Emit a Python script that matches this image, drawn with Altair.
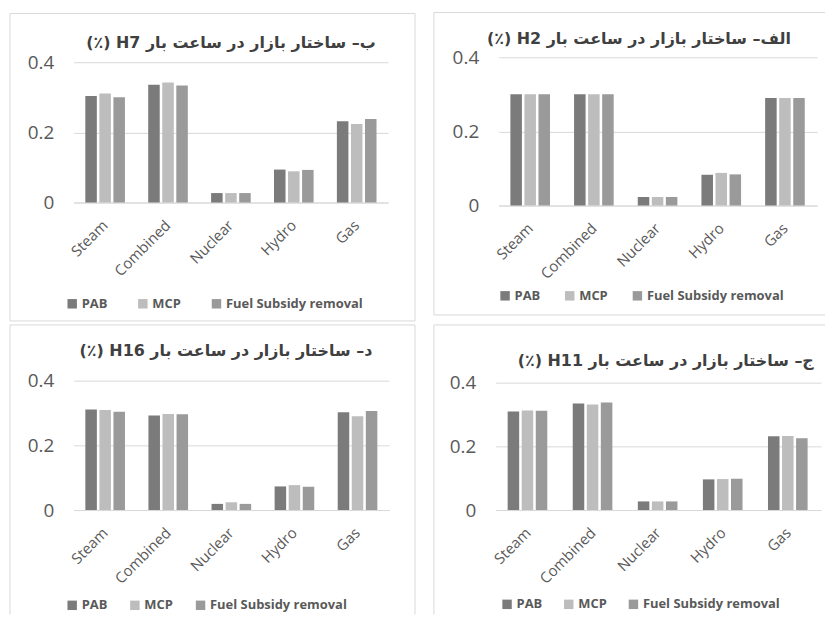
import altair as alt
import pandas as pd

categories = ["Steam", "Combined", "Nuclear", "Hydro", "Gas"]
series = ["PAB", "MCP", "Fuel Subsidy removal"]
colors = ["#7b7b7b", "#bdbdbd", "#9a9a9a"]

# H7 panel (top-left)
h7_pab = [0.304, 0.336, 0.027, 0.094, 0.232]
h7_mcp = [0.311, 0.342, 0.027, 0.089, 0.224]
h7_fsr = [0.300, 0.334, 0.027, 0.093, 0.238]
# H2 panel (top-right)
h2_pab = [0.300, 0.300, 0.023, 0.083, 0.290]
h2_mcp = [0.300, 0.300, 0.023, 0.088, 0.290]
h2_fsr = [0.300, 0.300, 0.023, 0.084, 0.290]
# H16 panel (bottom-left)
h16_pab = [0.311, 0.292, 0.019, 0.073, 0.302]
h16_mcp = [0.309, 0.297, 0.024, 0.077, 0.290]
h16_fsr = [0.304, 0.296, 0.019, 0.072, 0.306]
# H11 panel (bottom-right)
h11_pab = [0.309, 0.334, 0.027, 0.096, 0.231]
h11_mcp = [0.312, 0.331, 0.027, 0.097, 0.232]
h11_fsr = [0.311, 0.337, 0.027, 0.098, 0.225]

title_h7 = "(٪) H7 ب– ساختار بازار در ساعت بار"
title_h2 = "(٪) H2 الف– ساختار بازار در ساعت بار"
title_h16 = "(٪) H16 د– ساختار بازار در ساعت بار"
title_h11 = "(٪) H11  ج– ساختار بازار در ساعت بار"

y_ticks = [0, 0.2, 0.4]
BORDER = "#d9d9d9"
TEXT = "#595959"


def make_df(pab, mcp, fsr):
    rows = []
    for s, vals in zip(series, [pab, mcp, fsr]):
        for c, v in zip(categories, vals):
            rows.append({"category": c, "series": s, "value": v})
    return pd.DataFrame(rows)


def panel(pab, mcp, fsr, title, w, h, ymax, box, title_xy, legend_xy, colpad,
          right_border=True, bottom_border=True):
    df = make_df(pab, mcp, fsr)
    bars = alt.Chart(df).mark_bar().encode(
        x=alt.X("category:N", sort=categories, title=None,
                scale=alt.Scale(paddingInner=0.37, paddingOuter=0.185),
                axis=alt.Axis(labelAngle=-45, labelAlign="right", labelBaseline="middle",
                              labelPadding=20, labelFont="Open Sans", labelFontSize=15,
                              labelColor=TEXT, ticks=False, domainColor=BORDER,
                              labelLimit=0)),
        xOffset=alt.XOffset("series:N", sort=series,
                            scale=alt.Scale(paddingInner=0.18)),
        y=alt.Y("value:Q", title=None,
                scale=alt.Scale(domain=[0, ymax], nice=False),
                axis=alt.Axis(values=y_ticks, format=".1~f", domain=False, ticks=False,
                              labelPadding=20, labelFont="Open Sans", labelFontSize=19,
                              labelColor=TEXT, gridColor=BORDER, gridWidth=1)),
        color=alt.Color("series:N", sort=series,
                        scale=alt.Scale(domain=series, range=colors),
                        legend=alt.Legend(orient="none", legendX=legend_xy[0],
                                          legendY=legend_xy[1], direction="horizontal",
                                          title=None, symbolType="square", symbolSize=90,
                                          symbolStrokeWidth=0, labelFont="Open Sans",
                                          labelFontSize=13, labelFontWeight="bold",
                                          labelColor=TEXT, columnPadding=colpad,
                                          labelOffset=3, padding=0)),
    )
    one = alt.Data(values=[{"k": 1}])
    left, top, right, bottom = box
    layers = [bars]
    layers.append(alt.Chart(one).mark_rule(color=BORDER, strokeWidth=1).encode(
        x=alt.value(left), x2=alt.value(right), y=alt.value(top)))
    layers.append(alt.Chart(one).mark_rule(color=BORDER, strokeWidth=1).encode(
        x=alt.value(left), y=alt.value(top), y2=alt.value(bottom)))
    if right_border:
        layers.append(alt.Chart(one).mark_rule(color=BORDER, strokeWidth=1).encode(
            x=alt.value(right), y=alt.value(top), y2=alt.value(bottom)))
    if bottom_border:
        layers.append(alt.Chart(one).mark_rule(color=BORDER, strokeWidth=1).encode(
            x=alt.value(left), x2=alt.value(right), y=alt.value(bottom)))
    layers.append(alt.Chart(alt.Data(values=[{"t": title}])).mark_text(
        font="DejaVu Sans", fontSize=16, fontWeight="bold", color="#404040",
        align="center", baseline="middle").encode(
        text="t:N", x=alt.value(title_xy[0]), y=alt.value(title_xy[1])))
    return alt.layer(*layers).properties(width=w, height=h)


p_h7 = panel(h7_pab, h7_mcp, h7_fsr, title_h7, 316, 146, 0.4142,
             (-64, -44, 343, 265), (158, -14), (-8, 241), 29)
p_h2 = panel(h2_pab, h2_mcp, h2_fsr, title_h2, 320, 149, 0.4,
             (-65, -45, 328, 259), (141, -18), (0, 233), 23,
             right_border=False)
p_h16 = panel(h16_pab, h16_mcp, h16_fsr, title_h16, 317, 130, 0.4,
              (-64, -56, 343, 235), (153, -30), (-8, 219), 21,
              bottom_border=False)
p_h11 = panel(h11_pab, h11_mcp, h11_fsr, title_h11, 327, 130, 0.4053,
              (-62, -56, 331, 235), (171, -20), (5, 218), 20,
              right_border=False, bottom_border=False)

chart = alt.vconcat(
    alt.hconcat(p_h7, p_h2, spacing=17).resolve_scale(color="independent"),
    alt.hconcat(p_h16, p_h11, spacing=17).resolve_scale(color="independent"),
    spacing=2,
).properties(
    padding={"left": 1, "top": 2, "right": 0, "bottom": 0}
).configure_view(stroke=None).resolve_scale(color="independent")

chart.save("out.html", embed_options={"renderer": "svg", "actions": False})
